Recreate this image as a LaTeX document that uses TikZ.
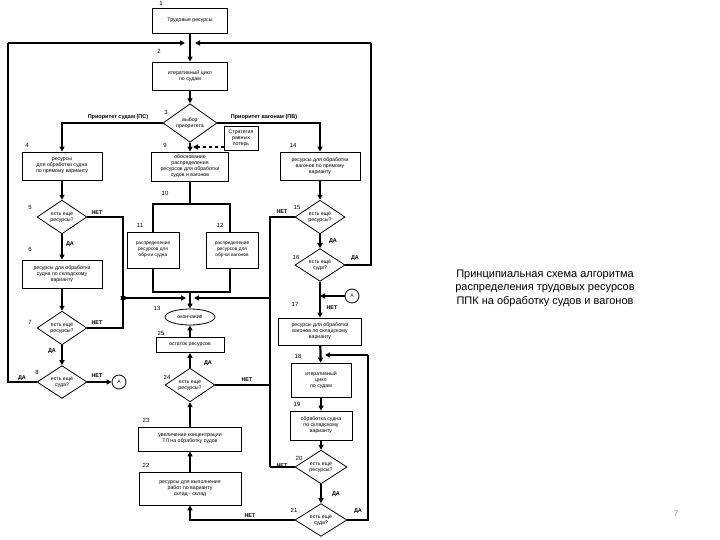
\documentclass[tikz,border=0pt]{standalone}
\usepackage{fontspec}
\setmainfont{Liberation Sans}
\usetikzlibrary{shapes.geometric,arrows.meta}
\begin{document}
\begin{tikzpicture}[x=1pt,y=-1pt,
  box/.style={draw,fill=white,line width=0.8pt,font=\fontsize{5.2}{6}\selectfont,align=center,inner sep=1pt},
  dia/.style={draw,line width=0.8pt,diamond,inner sep=0pt,font=\fontsize{5.2}{6}\selectfont,align=center,minimum width=54pt,minimum height=32pt},
  ln/.style={line width=2.2pt},
  ar/.style={line width=2.2pt,-{Triangle[length=5pt,width=5pt]}},
  num/.style={font=\fontsize{6}{7}\selectfont},
  lab/.style={font=\fontsize{5.5}{6.5}\selectfont\bfseries},
  circ/.style={draw,circle,line width=0.8pt,minimum size=14pt,inner sep=0pt,font=\fontsize{5}{6}\selectfont}]
\useasboundingbox (0,0) rectangle (720,540);
\fill[white] (0,0) rectangle (720,540);
% frame for 10
\coordinate (f1) at (153,204);
\coordinate (f2) at (230,204);
\coordinate (f3) at (153,292);
\coordinate (f4) at (230,292);
\draw[ln] (f1) -- (f2) -- (f4) -- (f3) -- cycle;
% nodes
\node[box,minimum width=75pt,minimum height=25pt] (n1) at (190,20.5) {Трудовые ресурсы};
\node[box,minimum width=75pt,minimum height=28pt] (n2) at (190,76) {итеративный цикл\\по судам};
\node[dia] (n3) at (190,123) {выбор\\приоритета};
\node[box,minimum width=34pt,minimum height=24pt,line width=0.6pt] (st) at (241,138) {Стратегия\\равных\\потерь};
\node[box,minimum width=80pt,minimum height=28pt] (n4) at (62,166) {ресурсы\\для обработки судна\\по прямому варианту};
\node[box,minimum width=77pt,minimum height=29pt] (n9) at (190,166.5) {обоснование\\распределения\\ресурсов для обработки\\судов и вагонов};
\node[box,minimum width=80pt,minimum height=28pt] (n14) at (320,166) {ресурсы для обработки\\вагонов по прямому\\варианту};
\node[box,minimum width=52pt,minimum height=36pt,font=\fontsize{4.8}{5.8}\selectfont] (n11) at (153,250) {распределение\\ресурсов для\\обр-ки судна};
\node[box,minimum width=52pt,minimum height=36pt,font=\fontsize{4.8}{5.8}\selectfont] (n12) at (232,250) {распределение\\ресурсов для\\обр-ки вагонов};
\node[draw,ellipse,line width=0.8pt,minimum width=50pt,minimum height=16pt,inner sep=0pt,font=\fontsize{5.2}{6}\selectfont] (n13) at (190,317) {окончание};
\node[dia,minimum width=50pt,minimum height=30pt] (n5) at (62,217) {есть ещё\\ресурсы?};
\node[box,minimum width=80pt,minimum height=28pt] (n6) at (62,274) {ресурсы для обработки\\судна по складскому\\варианту};
\node[dia,minimum width=50pt,minimum height=30pt] (n7) at (62,328) {есть ещё\\ресурсы?};
\node[dia,minimum width=50pt,minimum height=30pt] (n8) at (62,382) {есть ещё\\суда?};
\node[circ] (a1) at (119,382) {A};
\node[box,minimum width=68pt,minimum height=15pt] (n25) at (190,345) {остаток ресурсов};
\node[dia,minimum width=50pt,minimum height=30pt] (n24) at (190,385) {есть ещё\\ресурсы?};
\node[box,minimum width=103pt,minimum height=24pt] (n23) at (190,439) {увеличение концентрации\\ТЛ на обработку судов};
\node[box,minimum width=102pt,minimum height=33pt] (n22) at (190,488.5) {ресурсы для выполнения\\работ по варианту\\склад - склад};
\node[dia,minimum width=50pt,minimum height=30pt] (n15) at (320,217) {есть ещё\\ресурсы?};
\node[dia,minimum width=50pt,minimum height=30pt] (n16) at (320,265) {есть ещё\\суда?};
\node[circ] (a2) at (352,296) {A};
\node[box,minimum width=83pt,minimum height=27pt] (n17) at (320,331.5) {ресурсы для обработки\\вагонов по складскому\\варианту};
\node[box,minimum width=60pt,minimum height=34pt] (n18) at (321,380) {итеративный\\цикл\\по судам};
\node[box,minimum width=62pt,minimum height=29pt] (n19) at (321,425.5) {обработка судна\\по складскому\\варианту};
\node[dia,minimum width=52pt,minimum height=30pt] (n20) at (321,467) {есть ещё\\ресурсы?};
\node[dia,minimum width=52pt,minimum height=30pt] (n21) at (321,520) {есть ещё\\суда?};
% coordinates
\coordinate (top) at (190,43);
\coordinate (jl) at (123,298);
\coordinate (jc) at (190,298);
\coordinate (jr) at (270,298);
\coordinate (j16) at (320,296);
\coordinate (j18) at (321,355);
% connectors
\draw[ar] (n1) -- (n2);
\draw[ln] (n8.west) -| (8,43) coordinate (tl);
\draw[ar] (tl) -- ([xshift=-5pt]top);
\draw[ln] (n16.east) -| (371,43) coordinate (tr);
\draw[ar] (tr) -- ([xshift=5pt]top);
\draw[ar] (n2) -- (n3);
\draw[ar] (n3.west) -| (n4.north);
\draw[ar] (n3.east) -| (n14.north);
\draw[ar] (n3) -- (n9);
\draw[ar,line width=1.4pt,dashed] (st.west) ++(0,9) -- (193,147);
\draw[ln] (n9) -- (190,204);
\draw[ar] (n4) -- (n5);
\draw[ar] (n5) -- (n6);
\draw[ar] (n6) -- (n7);
\draw[ar] (n7) -- (n8);
\draw[ar] (n5.east) -| ([yshift=-3pt]jl);
\draw[ar] (n7.east) -| ([yshift=3pt]jl);
\draw[ar] (jl) -- ([xshift=-4pt]jc);
\draw[ar] (jr) -- ([xshift=4pt]jc);
\draw[ar] (190,292) -- (n13);
\draw[ar] (n8.east) -- (a1);
\draw[ar] (n14) -- (n15);
\draw[ar] (n15) -- (n16);
\draw[ln] (n15.west) -| (270,467) coordinate (b20);
\draw[ln] (n20.west) -- (b20);
\draw[ln] (n24.east) -- (270,385);
\draw[ar] (n16) -- (n17);
\draw[ar] (a2) -- (j16);
\draw[ar] (n17) -- (n18);
\draw[ar] (n18) -- (n19);
\draw[ar] (n19) -- (n20);
\draw[ar] (n20) -- (n21);
\draw[ln] (n21.east) -| (368,355) coordinate (r21);
\draw[ar] (r21) -- ([xshift=4pt]j18);
\draw[ar] (n21.west) -| (n22.south);
\draw[ar] (n22) -- (n23);
\draw[ar] (n23) -- (n24);
\draw[ar] (n24) -- (n25);
\draw[ar] (n25) -- (n13);
% numbers
\node[num] at (161,3) {1};
\node[num] at (159,51) {2};
\node[num] at (166,112) {3};
\node[num] at (27,145) {4};
\node[num] at (165,145) {9};
\node[num] at (293,145) {14};
\node[num] at (165,193) {10};
\node[num] at (140,225) {11};
\node[num] at (220,225) {12};
\node[num] at (157,308) {13};
\node[num] at (30,207) {5};
\node[num] at (30,249) {6};
\node[num] at (30,322) {7};
\node[num] at (37,372) {8};
\node[num] at (161,333) {25};
\node[num] at (167,377) {24};
\node[num] at (146,420) {23};
\node[num] at (146,465) {22};
\node[num] at (297,207) {15};
\node[num] at (296,257) {16};
\node[num] at (295,304) {17};
\node[num] at (298,356) {18};
\node[num] at (297,404) {19};
\node[num] at (299,458) {20};
\node[num] at (294,510) {21};
% labels
\node[lab] at (118,117) {Приоритет судам (ПС)};
\node[lab] at (264,117) {Приоритет вагонам (ПВ)};
\node[lab] at (97,213) {НЕТ};
\node[lab] at (70,244) {ДА};
\node[lab] at (97,323) {НЕТ};
\node[lab] at (52,351) {ДА};
\node[lab] at (97,376) {НЕТ};
\node[lab] at (22,378) {ДА};
\node[lab] at (208,363) {ДА};
\node[lab] at (247,380) {НЕТ};
\node[lab] at (282,212) {НЕТ};
\node[lab] at (333,241) {ДА};
\node[lab] at (355,258) {ДА};
\node[lab] at (332,308) {НЕТ};
\node[lab] at (282,466) {НЕТ};
\node[lab] at (336,494) {ДА};
\node[lab] at (358,511) {ДА};
\node[lab] at (250,516) {НЕТ};
% title
\node[font=\fontsize{11}{13.5}\selectfont,align=center] (t) at (545,288) {Принципиальная схема алгоритма\\распределения трудовых ресурсов\\ППК на обработку судов и вагонов};
\node[font=\fontsize{8}{9}\selectfont,text=gray] (p) at (676,514) {7};
\end{tikzpicture}
\end{document}
